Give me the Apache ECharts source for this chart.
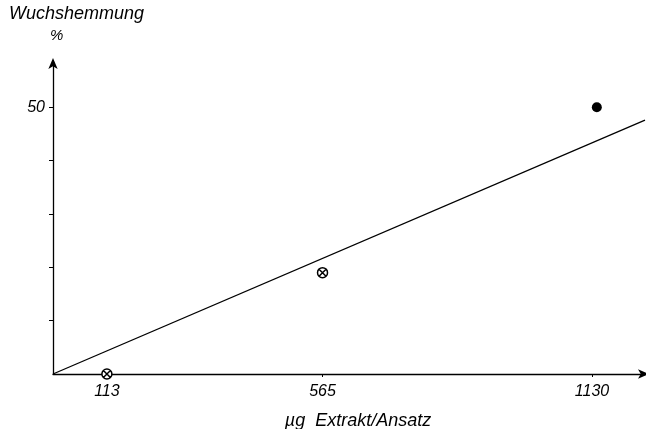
<!DOCTYPE html>
<html>
<head>
<meta charset="utf-8">
<script src="https://cdn.jsdelivr.net/npm/echarts@6/dist/echarts.min.js"></script>
<style>
html, body { margin: 0; padding: 0; background: #fff; }
#mychart { width: 646px; height: 429px; }
</style>
</head>
<body>
<div id="mychart"></div>
<script>
// Messpunkte
var doseX = [113, 565, 1140];
var hemmungY = [0, 19, 50];
// Ausgleichsgerade
var fitX = [0, 1241];
var fitY = [0, 47.6];
// Achsenbeschriftung
var xTicks = [113, 565, 1130];
var yTicks = [10, 20, 30, 40, 50];
var yLabels = [50];

var crossPath = 'path://M0,-5A5,5,0,1,1,0,5A5,5,0,1,1,0,-5ZM-3.5,-3.5L3.5,3.5M3.5,-3.5L-3.5,3.5';
var font = 'Liberation Sans';

var openPts = [];
var fullPts = [];
for (var i = 0; i < doseX.length; i++) {
    if (i < 2) {
        openPts.push([doseX[i], hemmungY[i]]);
    } else {
        fullPts.push([doseX[i], hemmungY[i]]);
    }
}
var fitLine = [];
for (var j = 0; j < fitX.length; j++) {
    fitLine.push([fitX[j], fitY[j]]);
}

var myChart = echarts.init(document.getElementById('mychart'));
myChart.setOption({
    animation: false,
    backgroundColor: '#fff',
    grid: {
        left: 53,
        right: 1,
        top: 62,
        bottom: 55,
        outerBoundsMode: 'none'
    },
    graphic: [
        {
            type: 'text',
            left: 9,
            top: 5,
            style: { text: 'Wuchshemmung', fill: '#000', font: 'italic 18px "' + font + '"' }
        },
        {
            type: 'text',
            left: 50,
            top: 28,
            style: { text: '%', fill: '#000', font: 'italic 15px "' + font + '"' }
        }
    ],
    xAxis: {
        type: 'value',
        min: 0,
        max: 1241,
        splitLine: { show: false },
        name: 'µg  Extrakt/Ansatz',
        nameLocation: 'middle',
        nameGap: 38,
        nameTextStyle: { color: '#000', fontSize: 18, fontStyle: 'italic', fontFamily: font, padding: [0, 0, 0, 18] },
        axisLine: {
            lineStyle: { color: '#000', width: 1.3 },
            symbol: ['none', 'arrow'],
            symbolSize: [7, 11],
            symbolOffset: [0, 4]
        },
        axisTick: {
            customValues: xTicks,
            length: 3,
            lineStyle: { color: '#000' }
        },
        axisLabel: {
            customValues: xTicks,
            formatter: function (v) { return String(v); },
            color: '#000',
            fontSize: 16,
            fontStyle: 'italic',
            fontFamily: font,
            margin: 10
        }
    },
    yAxis: {
        type: 'value',
        min: 0,
        max: 58.5,
        splitLine: { show: false },
        axisLine: {
            show: true,
            lineStyle: { color: '#000', width: 1.3 },
            symbol: ['none', 'arrow'],
            symbolSize: [7, 11],
            symbolOffset: [0, 4]
        },
        axisTick: {
            show: true,
            customValues: yTicks,
            length: 4,
            lineStyle: { color: '#000' }
        },
        axisLabel: {
            customValues: yLabels,
            color: '#000',
            fontSize: 16,
            fontStyle: 'italic',
            fontFamily: font,
            margin: 8
        }
    },
    series: [
        {
            name: 'Gerade',
            type: 'line',
            data: fitLine,
            symbol: 'none',
            lineStyle: { color: '#000', width: 1.3 },
            z: 2
        },
        {
            name: 'offen',
            type: 'scatter',
            data: openPts,
            symbol: crossPath,
            symbolSize: 10,
            itemStyle: { color: '#fff', borderColor: '#000', borderWidth: 1.5, opacity: 1 },
            z: 3
        },
        {
            name: 'voll',
            type: 'scatter',
            data: fullPts,
            symbol: 'circle',
            symbolSize: 10,
            itemStyle: { color: '#000', opacity: 1 },
            z: 3
        }
    ]
});
</script>
</body>
</html>
